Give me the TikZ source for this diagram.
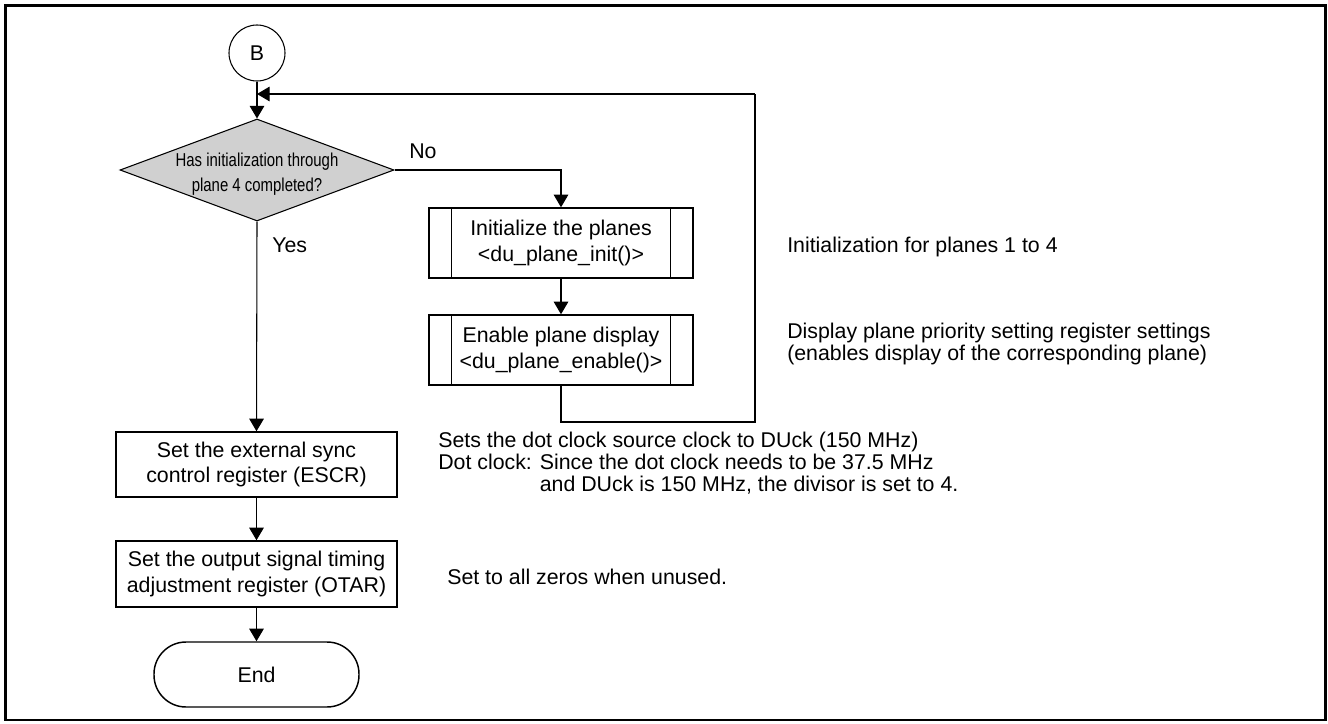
\documentclass[tikz,border=0pt]{standalone}
\usepackage{fontspec}
\setmainfont{Liberation Sans}
\usepackage{graphicx}
\usetikzlibrary{shapes.geometric,arrows.meta,calc}
\newdimen\px \px=0.75pt
\definecolor{diagray}{RGB}{208,208,208}
\begin{document}
\begin{tikzpicture}[x=0.75pt,y=-0.75pt,
  txt/.style={font=\fontsize{16}{19}\selectfont, inner sep=0pt},
  cmt/.style={txt, anchor=west, align=left, font=\fontsize{16}{16.5}\selectfont},
  conn/.style={line width=0.8pt, -{Triangle[length=9.5pt,width=11pt]}},
  plain/.style={line width=0.8pt},
  box/.style={txt, draw, line width=1.1pt, minimum width=281\px, minimum height=65\px, align=center},
  predef/.style={box, minimum width=264\px, minimum height=70\px},
  term/.style={box, minimum width=205\px, minimum height=65\px, rounded corners=24pt},
  decision/.style={draw, diamond, fill=diagray, line width=0.8pt, minimum width=274\px, minimum height=102\px, inner sep=0pt},
  conncircle/.style={txt, draw, circle, line width=0.8pt, minimum size=56\px}
]
\useasboundingbox (0,0) rectangle (1328,724);
\draw[line width=2pt] (5.3,5.3) rectangle (1325.5,720);

% nodes
\node[conncircle] (B) at (257,53) {B};
\node[decision] (D) at (257,170) {};
\node[txt, align=center, font=\fontsize{14}{19}\selectfont] (Dt) at (257,174)
  {\scalebox{0.8}[1]{Has initialization through}\\\scalebox{0.8}[1]{plane 4 completed?}};
\node[predef] (P1) at (561,243) {Initialize the planes\\<du\_plane\_init()>};
\node[predef] (P2) at (561,350) {Enable plane display\\<du\_plane\_enable()>};
\foreach \n in {P1,P2}{
  \draw[line width=1.1pt] ($(\n.north west)+(23,0)$) -- ($(\n.south west)+(23,0)$);
  \draw[line width=1.1pt] ($(\n.north east)+(-23,0)$) -- ($(\n.south east)+(-23,0)$);
}
\node[box] (E1) at (256.5,464.5) {Set the external sync\\control register (ESCR)};
\node[box, minimum height=66\px] (E2) at (256.5,574) {Set the output signal timing\\adjustment register (OTAR)};
\node[term] (End) at (256.5,674.5) {End};

% labels
\node[txt, anchor=west] (No) at (409,151) {No};
\node[txt, anchor=west] (Yes) at (272,245) {Yes};
\node[cmt] (C1) at (787,247) {Initialization for planes 1 to 4};
\node[cmt] (C2) at (787,344) {Display plane priority setting register settings\\(enables display of the corresponding plane)};
\node[cmt] (C3) at (438,463) {Sets the dot clock source clock to DUck (150 MHz)\\Dot clock: Since the dot clock needs to be 37.5 MHz\\\phantom{Dot clock: }and DUck is 150 MHz, the divisor is set to 4.};
\node[cmt] (C4) at (447,577) {Set to all zeros when unused.};

% connectors
\coordinate (m) at (257,94);
\coordinate (c1) at (561,422);
\coordinate (c2) at (755,422);
\coordinate (c3) at (755,94);
\draw[conn] (B.south) -- (D.north);
\draw[conn] (D.east) -| (P1.north);
\draw[conn] (P1.south) -- (P2.north);
\draw[plain] (P2.south) -- (c1) -- (c2) -- (c3);
\draw[conn] (c3) -- (m);
\draw[conn] (D.south) -- (E1.north);
\draw[conn] (E1.south) -- (E2.north);
\draw[conn] (E2.south) -- (End.north);
\end{tikzpicture}
\end{document}
